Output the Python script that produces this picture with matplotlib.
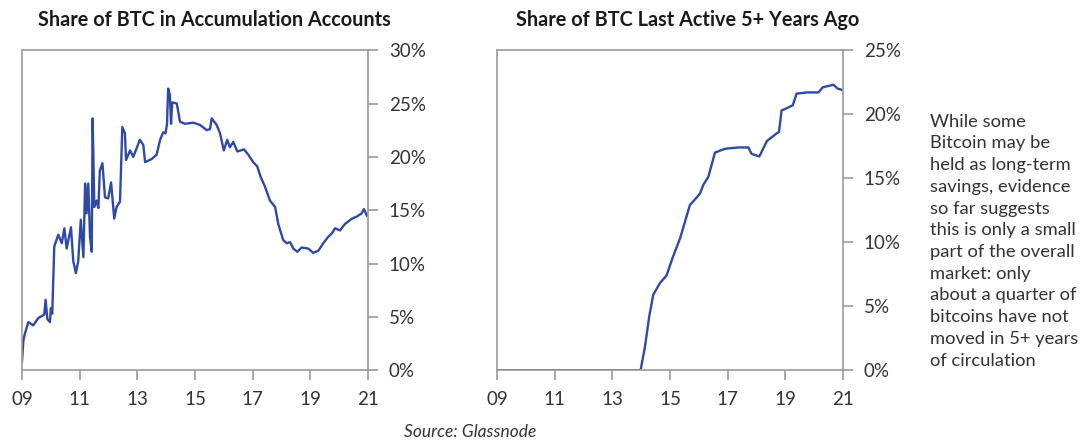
import matplotlib.pyplot as plt
import numpy as np

# Share of BTC in accumulation accounts (year, %)
accum_year = [2009.0, 2009.05, 2009.1, 2009.22, 2009.39, 2009.57, 2009.77, 2009.82, 2009.88, 2009.97,
              2010.0, 2010.05, 2010.12, 2010.26, 2010.38, 2010.47, 2010.55, 2010.7, 2010.78, 2010.87,
              2010.95, 2011.04, 2011.13, 2011.19, 2011.24, 2011.3, 2011.36, 2011.42, 2011.45, 2011.51,
              2011.59, 2011.65, 2011.7, 2011.79, 2011.88, 2011.99, 2012.09, 2012.2, 2012.28, 2012.4,
              2012.48, 2012.57, 2012.61, 2012.75, 2012.86, 2013.09, 2013.21, 2013.27, 2013.5, 2013.67,
              2013.79, 2013.9, 2013.98, 2014.03, 2014.07, 2014.13, 2014.17, 2014.21, 2014.37, 2014.48,
              2014.65, 2014.94, 2015.17, 2015.41, 2015.52, 2015.58, 2015.75, 2015.87, 2016.0, 2016.12,
              2016.21, 2016.33, 2016.47, 2016.7, 2016.85, 2017.02, 2017.16, 2017.28, 2017.43, 2017.6,
              2017.78, 2017.89, 2018.06, 2018.18, 2018.3, 2018.41, 2018.55, 2018.7, 2018.93, 2019.1,
              2019.28, 2019.45, 2019.62, 2019.74, 2019.86, 2020.03, 2020.2, 2020.44, 2020.61, 2020.78,
              2020.86, 2020.96]
accum_pct = [0.8, 2.8, 3.4, 4.5, 4.2, 4.9, 5.2, 6.6, 4.8, 4.5,
             5.8, 5.3, 11.6, 12.7, 11.9, 13.3, 11.4, 13.4, 10.2, 9.1,
             10.2, 14.1, 10.6, 17.5, 14.7, 17.5, 12.5, 11.1, 23.6, 15.3,
             15.9, 15.2, 18.7, 19.4, 16.2, 16.1, 17.6, 14.2, 15.3, 15.8,
             22.8, 22.2, 19.7, 20.6, 20.0, 21.6, 21.1, 19.5, 19.8, 20.2,
             21.6, 22.3, 22.2, 23.1, 26.4, 25.8, 23.1, 25.1, 25.0, 23.3,
             23.1, 23.2, 23.0, 22.5, 22.6, 23.6, 23.0, 22.2, 20.6, 21.6,
             20.9, 21.4, 20.5, 20.7, 20.2, 19.5, 19.1, 18.1, 17.2, 15.9,
             15.3, 13.7, 12.2, 11.9, 12.0, 11.4, 11.1, 11.5, 11.4, 11.0,
             11.2, 11.9, 12.5, 12.8, 13.3, 13.1, 13.7, 14.2, 14.4, 14.7,
             15.1, 14.5]

# Share of BTC last active 5+ years ago (year, %)
dormant_year = [2009.0, 2013.98, 2014.13, 2014.28, 2014.42, 2014.65, 2014.88, 2015.11, 2015.35, 2015.52,
                2015.69, 2015.93, 2016.04, 2016.16, 2016.33, 2016.56, 2016.91, 2017.37, 2017.72, 2017.83,
                2018.1, 2018.36, 2018.7, 2018.78, 2018.87, 2018.99, 2019.26, 2019.39, 2019.74, 2020.15,
                2020.3, 2020.67, 2020.81, 2020.96]
dormant_pct = [0.0, 0.0, 1.8, 4.2, 5.9, 6.8, 7.4, 8.9, 10.3, 11.6,
               12.9, 13.5, 13.8, 14.5, 15.1, 17.0, 17.3, 17.4, 17.4, 16.9,
               16.7, 17.9, 18.5, 18.6, 20.3, 20.4, 20.7, 21.6, 21.7, 21.7,
               22.1, 22.3, 22.0, 21.9]

x_ticks = [2009, 2011, 2013, 2015, 2017, 2019, 2021]
x_labels = ['09', '11', '13', '15', '17', '19', '21']

note = ("While some\nBitcoin may be\nheld as long-term\nsavings, evidence\nso far suggests\n"
        "this is only a small\npart of the overall\nmarket: only\nabout a quarter of\n"
        "bitcoins have not\nmoved in 5+ years\nof circulation")

plt.rcParams['font.family'] = ['Lato', 'DejaVu Sans']
line_color = '#2f4aa6'
grey = '#9a9a9a'
text_color = '#333333'

fig = plt.figure(figsize=(10.88, 4.46), dpi=100)
ax1 = fig.add_axes([0.0202, 0.170, 0.318, 0.7175])
ax2 = fig.add_axes([0.4568, 0.170, 0.318, 0.7175])


def style(ax, ymax):
    ax.set_xlim(2009, 2021)
    ax.set_ylim(0, ymax)
    ax.set_xticks(x_ticks)
    ax.set_xticklabels(x_labels)
    yt = np.arange(0, ymax + 1, 5)
    ax.set_yticks(yt)
    ax.set_yticklabels([f'{int(v)}%' for v in yt])
    ax.yaxis.tick_right()
    ax.tick_params(axis='both', length=7, width=1.2, color=grey, labelsize=13.5,
                   labelcolor=text_color, pad=8, direction='out')
    for s in ax.spines.values():
        s.set_color(grey)
        s.set_linewidth(1.2)


ax1.plot(accum_year, accum_pct, color=line_color, lw=1.7)
style(ax1, 30)
ax2.plot(dormant_year, dormant_pct, color=line_color, lw=1.7)
style(ax2, 25)

fig.text(0.197, 0.955, 'Share of BTC in Accumulation Accounts', ha='center', va='center',
         fontsize=14.3, fontweight='bold', color='#1a1a1a')
fig.text(0.632, 0.955, 'Share of BTC Last Active 5+ Years Ago', ha='center', va='center',
         fontsize=14.3, fontweight='bold', color='#1a1a1a')
fig.text(0.855, 0.745, note, ha='left', va='top', fontsize=13.2, color=text_color, linespacing=1.44)
fig.text(0.432, 0.032, 'Source: Glassnode', ha='center', va='center', fontsize=12.5,
         style='italic', color=text_color)

plt.savefig('out.png', dpi=100)
